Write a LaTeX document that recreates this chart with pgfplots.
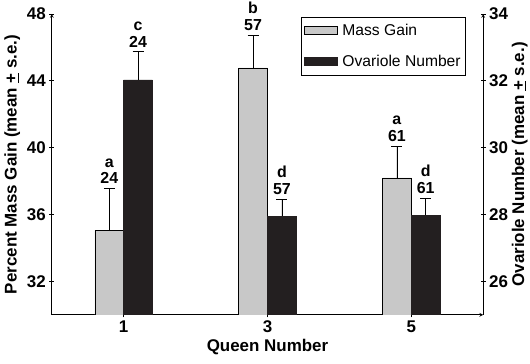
\documentclass[border=0pt]{standalone}
\usepackage{pgfplots}
\pgfplotsset{compat=1.18}
\usepackage{fontspec}
\setmainfont{Liberation Sans}
\definecolor{mgray}{RGB}{200,200,200}
\definecolor{mblack}{RGB}{35,31,32}
\begin{document}
\begin{tikzpicture}
\path[use as bounding box] (-52pt,-49pt) rectangle (480pt,316pt);
\pgfplotsset{
 common/.style={
  scale only axis, width=433pt, height=302pt,
  xmin=0, xmax=6,
  font=\fontsize{17}{20}\selectfont\bfseries,
  /pgf/number format/assume math mode=true,
  tick align=outside, major tick length=5pt,
  axis line style={-, line width=0.7pt},
  tick style={line width=0.7pt, black},
  ybar, bar width=0.4, bar shift=0pt,
 },
 lbl/.style={draw=none, fill=none, mark=none, nodes near coords, point meta=explicit symbolic,
  nodes near coords style={anchor=south, align=center, inner sep=0pt, yshift=4.5pt, text=black,
  font=\fontsize{16}{17}\selectfont\bfseries}},
 eb/.style={error bars/y dir=plus, error bars/y explicit,
  error bars/error bar style={black, line width=0.6pt},
  error bars/error mark options={black, rotate=90, mark size=5.5pt, line width=0.6pt}}
}
\begin{axis}[common,
 axis x line=bottom, axis y line=left,
 ymin=30, ymax=48, ytick={32,36,40,44,48},
 xtick={1,3,5},
 xlabel={Queen Number},
 ylabel={Percent Mass Gain (mean \underline{+} s.e.)},
]
\addplot[fill=mgray, draw=black, line width=0.5pt, eb]
 coordinates {(0.8,35.04) +- (0,2.51) (2.8,44.77) +- (0,1.95) (4.8,38.19) +- (0,1.89)};
\addplot[lbl] coordinates {(0.8,37.55)[a\\24] (2.8,46.72)[b\\57] (4.8,40.08)[a\\61]};
\end{axis}
\begin{axis}[common,
 axis x line=none, axis y line=right,
 ymin=25, ymax=34, ytick={26,28,30,32,34},
 ylabel={Ovariole Number (mean \underline{+} s.e.)},
 ylabel style={yshift=3pt},
 legend style={at={(0.577,0.99)}, anchor=north west, draw=black, line width=0.6pt,
  font=\fontsize{15.7}{18}\selectfont\mdseries, row sep=14pt, inner xsep=3pt, inner ysep=5pt},
 legend cell align=left,
]
\addlegendimage{legend image code/.code={\draw[fill=mgray, draw=black, line width=0.5pt] (0pt,-4pt) rectangle (33pt,4pt); \path (36pt,0pt);}}
\addlegendimage{legend image code/.code={\draw[fill=mblack, draw=mblack] (0pt,-4pt) rectangle (33pt,4pt); \path (36pt,0pt);}}
\addplot[forget plot, fill=mblack, draw=mblack, line width=0.5pt, eb]
 coordinates {(1.2,32.03) +- (0,0.84) (3.2,27.95) +- (0,0.50) (5.2,27.98) +- (0,0.51)};
\addplot[forget plot, lbl] coordinates {(1.2,32.87)[c\\24] (3.2,28.45)[d\\57] (5.2,28.49)[d\\61]};
\legend{Mass Gain, Ovariole Number}
\end{axis}
\end{tikzpicture}
\end{document}
